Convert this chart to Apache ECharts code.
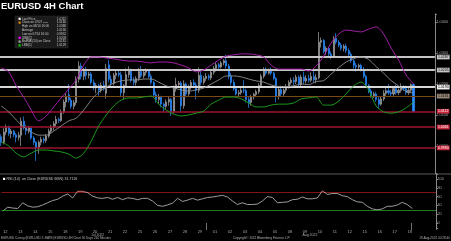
<!DOCTYPE html>
<html><head><meta charset="utf-8">
<script src="https://cdn.jsdelivr.net/npm/echarts@6/dist/echarts.min.js"></script>
<style>html,body{margin:0;padding:0;background:#000;}#c{width:451px;height:241px;}</style>
</head><body><div id="c"></div>
<script>
// ---------------- DATA ----------------
const dayLabels = ['12','13','14','15','18','19','20','21','22','25','26','27','28','29',
  '01','02','03','04','05','08','09','10','11','12','15','16','17','18'];
const monthLabels = ['Jul 2022', 'Aug 2022'];
const monthLabelBars = [38, 123];

const opens = [
 1.0030,1.0012,1.0045,1.0062,1.0040,1.0048, 1.0036,1.0028,1.0035,1.0080,1.0060,1.0048,
 1.0058,1.0026,1.0012,0.9994,1.0012,1.0022, 1.0018,1.0032,1.0048,1.0060,1.0072,1.0086,
 1.0082,1.0110,1.0142,1.0165,1.0148,1.0128, 1.0140,1.0215,1.0258,1.0225,1.0240,1.0228,
 1.0232,1.0205,1.0188,1.0195,1.0180,1.0196, 1.0170,1.0262,1.0215,1.0202,1.0228,1.0235,
 1.0230,1.0172,1.0195,1.0230,1.0245,1.0212, 1.0205,1.0218,1.0240,1.0226,1.0238,1.0242,
 1.0224,1.0205,1.0165,1.0150,1.0158,1.0135, 1.0128,1.0142,1.0150,1.0112,1.0185,1.0198,
 1.0203,1.0130,1.0200,1.0168,1.0190,1.0205, 1.0197,1.0180,1.0228,1.0205,1.0218,1.0225,
 1.0220,1.0238,1.0250,1.0262,1.0255,1.0268, 1.0275,1.0258,1.0225,1.0205,1.0185,1.0168,
 1.0172,1.0180,1.0178,1.0150,1.0140,1.0158, 1.0166,1.0175,1.0195,1.0225,1.0248,1.0235,
 1.0245,1.0235,1.0218,1.0160,1.0182,1.0168, 1.0180,1.0192,1.0205,1.0212,1.0208,1.0222,
 1.0198,1.0222,1.0210,1.0218,1.0212,1.0224, 1.0214,1.0220,1.0335,1.0340,1.0305,1.0315,
 1.0297,1.0290,1.0348,1.0335,1.0325,1.0315, 1.0322,1.0308,1.0296,1.0275,1.0260,1.0255,
 1.0260,1.0248,1.0225,1.0195,1.0178,1.0162, 1.0168,1.0150,1.0135,1.0152,1.0170,1.0178,
 1.0172,1.0168,1.0185,1.0172,1.0180,1.0190, 1.0185,1.0172,1.0180,1.0198];
const closes = [
 1.0012,1.0045,1.0062,1.0040,1.0048,1.0036, 1.0028,1.0035,1.0080,1.0060,1.0048,1.0058,
 1.0026,1.0012,0.9994,1.0012,1.0022,1.0018, 1.0032,1.0048,1.0060,1.0072,1.0086,1.0082,
 1.0110,1.0142,1.0160,1.0148,1.0128,1.0140, 1.0215,1.0258,1.0225,1.0240,1.0228,1.0232,
 1.0205,1.0188,1.0195,1.0180,1.0196,1.0184, 1.0250,1.0215,1.0202,1.0228,1.0235,1.0230,
 1.0172,1.0195,1.0230,1.0245,1.0212,1.0205, 1.0218,1.0240,1.0226,1.0238,1.0242,1.0224,
 1.0205,1.0165,1.0150,1.0158,1.0135,1.0128, 1.0142,1.0150,1.0112,1.0185,1.0198,1.0203,
 1.0130,1.0200,1.0168,1.0190,1.0205,1.0197, 1.0180,1.0228,1.0205,1.0218,1.0225,1.0220,
 1.0238,1.0250,1.0262,1.0255,1.0268,1.0275, 1.0258,1.0225,1.0205,1.0185,1.0168,1.0172,
 1.0180,1.0178,1.0150,1.0140,1.0158,1.0166, 1.0175,1.0195,1.0225,1.0248,1.0235,1.0245,
 1.0235,1.0218,1.0160,1.0182,1.0168,1.0180, 1.0192,1.0205,1.0212,1.0208,1.0222,1.0198,
 1.0222,1.0210,1.0218,1.0212,1.0224,1.0214, 1.0220,1.0335,1.0340,1.0305,1.0315,1.0297,
 1.0290,1.0345,1.0335,1.0325,1.0315,1.0322, 1.0308,1.0296,1.0275,1.0260,1.0255,1.0260,
 1.0248,1.0225,1.0195,1.0178,1.0162,1.0168, 1.0150,1.0135,1.0152,1.0170,1.0178,1.0172,
 1.0168,1.0185,1.0172,1.0180,1.0190,1.0185, 1.0172,1.0180,1.0198,1.0112];
const lows = [
 1.0000,1.0005,1.0035,1.0032,1.0025,1.0028, 1.0012,1.0018,1.0000,1.0052,1.0035,1.0040,
 1.0020,1.0004,0.9952,0.9975,1.0002,1.0008, 1.0010,1.0026,1.0040,1.0050,1.0062,1.0074,
 1.0078,1.0104,1.0125,1.0140,1.0120,1.0118, 1.0132,1.0205,1.0215,1.0212,1.0215,1.0218,
 1.0198,1.0180,1.0170,1.0162,1.0172,1.0178, 1.0153,1.0205,1.0190,1.0195,1.0215,1.0222,
 1.0160,1.0150,1.0188,1.0220,1.0205,1.0195, 1.0195,1.0210,1.0220,1.0218,1.0228,1.0218,
 1.0198,1.0158,1.0140,1.0135,1.0125,1.0111, 1.0120,1.0130,1.0097,1.0105,1.0175,1.0188,
 1.0112,1.0120,1.0160,1.0162,1.0182,1.0188, 1.0150,1.0172,1.0195,1.0198,1.0210,1.0212,
 1.0212,1.0230,1.0240,1.0248,1.0250,1.0260, 1.0250,1.0215,1.0195,1.0178,1.0163,1.0160,
 1.0165,1.0170,1.0140,1.0123,1.0130,1.0150, 1.0158,1.0168,1.0188,1.0218,1.0228,1.0230,
 1.0228,1.0212,1.0141,1.0150,1.0160,1.0162, 1.0172,1.0185,1.0198,1.0196,1.0200,1.0190,
 1.0190,1.0200,1.0202,1.0204,1.0206,1.0205, 1.0202,1.0215,1.0318,1.0298,1.0294,1.0290,
 1.0280,1.0285,1.0328,1.0318,1.0308,1.0305, 1.0300,1.0288,1.0268,1.0250,1.0240,1.0245,
 1.0240,1.0218,1.0188,1.0170,1.0156,1.0155, 1.0142,1.0123,1.0130,1.0145,1.0162,1.0165,
 1.0160,1.0162,1.0165,1.0165,1.0172,1.0178, 1.0165,1.0165,1.0172,1.0108];
const highs = [
 1.0038,1.0058,1.0069,1.0066,1.0055,1.0052, 1.0042,1.0045,1.0092,1.0095,1.0068,1.0065,
 1.0062,1.0032,1.0016,1.0018,1.0030,1.0028, 1.0038,1.0056,1.0068,1.0080,1.0097,1.0092,
 1.0118,1.0150,1.0170,1.0200,1.0155,1.0148, 1.0225,1.0274,1.0268,1.0252,1.0255,1.0240,
 1.0238,1.0215,1.0203,1.0200,1.0205,1.0210, 1.0265,1.0278,1.0228,1.0236,1.0245,1.0244,
 1.0240,1.0200,1.0250,1.0257,1.0250,1.0222, 1.0225,1.0252,1.0258,1.0246,1.0250,1.0248,
 1.0232,1.0210,1.0175,1.0168,1.0162,1.0140, 1.0150,1.0160,1.0155,1.0195,1.0220,1.0210,
 1.0210,1.0212,1.0205,1.0198,1.0213,1.0215, 1.0205,1.0253,1.0240,1.0226,1.0235,1.0232,
 1.0245,1.0258,1.0270,1.0268,1.0274,1.0280, 1.0294,1.0265,1.0235,1.0215,1.0195,1.0180,
 1.0190,1.0213,1.0185,1.0160,1.0165,1.0172, 1.0182,1.0202,1.0232,1.0254,1.0254,1.0250,
 1.0253,1.0240,1.0222,1.0190,1.0195,1.0186, 1.0200,1.0212,1.0220,1.0222,1.0230,1.0228,
 1.0230,1.0240,1.0228,1.0230,1.0238,1.0248, 1.0232,1.0368,1.0350,1.0345,1.0322,1.0320,
 1.0305,1.0355,1.0364,1.0342,1.0332,1.0328, 1.0330,1.0315,1.0302,1.0280,1.0268,1.0266,
 1.0266,1.0255,1.0230,1.0200,1.0185,1.0175, 1.0175,1.0158,1.0160,1.0180,1.0190,1.0200,
 1.0180,1.0192,1.0198,1.0186,1.0202,1.0196, 1.0195,1.0188,1.0202,1.0202];

// Bollinger bands, one reading every 3 bars
const bandStep = 3;
const upperBand = [
 1.0252,1.0239,1.0194,1.0158,1.0116,1.0081,1.0097,1.0126,1.0155,1.0184,
 1.0213,1.0261,1.0287,1.0287,1.0284,1.0281,1.0277,1.0274,1.0274,1.0271,
 1.0268,1.0271,1.0271,1.0268,1.0261,1.0252,1.0239,1.0245,1.0261,1.0277,
 1.0290,1.0294,1.0297,1.0297,1.0294,1.0287,1.0261,1.0248,1.0248,1.0248,
 1.0248,1.0242,1.0258,1.0290,1.0332,1.0361,1.0374,1.0371,1.0368,1.0377,
 1.0384,1.0361,1.0316,1.0277,1.0229,1.0200];
const midBand = [
 1.0129,1.0110,1.0084,1.0061,1.0045,1.0035,1.0035,1.0048,1.0065,1.0081,
 1.0090,1.0116,1.0148,1.0174,1.0190,1.0203,1.0210,1.0213,1.0213,1.0216,
 1.0216,1.0206,1.0194,1.0187,1.0181,1.0177,1.0181,1.0187,1.0200,1.0213,
 1.0226,1.0226,1.0223,1.0216,1.0210,1.0206,1.0197,1.0192,1.0192,1.0194,
 1.0200,1.0198,1.0208,1.0211,1.0232,1.0253,1.0271,1.0282,1.0287,1.0279,
 1.0256,1.0235,1.0211,1.0194,1.0176,1.0171];
const lowerBand = [
 1.0013,1.0000,0.9977,0.9965,0.9977,0.9987,0.9987,0.9984,0.9981,0.9974,
 0.9961,0.9977,1.0016,1.0065,1.0100,1.0129,1.0148,1.0155,1.0155,1.0158,
 1.0161,1.0135,1.0116,1.0103,1.0097,1.0100,1.0106,1.0113,1.0135,1.0148,
 1.0158,1.0158,1.0152,1.0139,1.0126,1.0126,1.0132,1.0135,1.0135,1.0139,
 1.0152,1.0155,1.0158,1.0132,1.0132,1.0145,1.0168,1.0194,1.0206,1.0181,
 1.0129,1.0110,1.0106,1.0110,1.0123,1.0142];

// RSI(14), one reading every 2 bars
const rsiStep = 2;
const rsiValues = [
 27,36,34,33,46,39,36,37,41,46, 51,54,61,66,57,72,72,69,61,57,
 56,58,54,58,53,57,56,53,56,56, 50,40,38,41,45,56,49,52,56,52,
 55,58,59,61,63,59,50,42,46,42, 42,43,50,60,58,46,47,48,53,54,
 59,55,55,57,73,65,67,67,62,60, 53,48,47,38,32,30,32,38,38,41,
 47,42,33];
const rsiLast = 31.7116;
const rsiBands = [70, 30];

// horizontal levels and right-hand value tags
const levelValues = [1.0287, 1.0245, 1.0190, 1.0161, 1.0112, 1.0061, 0.9994];
const legendNames = ['Last Price','Close on 07/07 -----','High on 08/10 16:00','Average',
  'Low on 07/14 16:00','UBB(C)','BollMA (20) on Close','LBB(C)'];
const legendValues = [1.0112, 1.0160, 1.0368, 1.0190, 0.9952, 1.0203, 1.0181, 1.0129];

// ---------------- CHART ----------------
const barCount = 174;
const categories = Array.from({length: barCount}, (_, i) => String(i));
const candleData = opens.map((o, i) => [o, closes[i], lows[i], highs[i]]);
const bandData = arr => arr.map((v, k) => [k * bandStep, v]);
const rsiData = rsiValues.map((v, k) => [k * rsiStep, v]);

const FONT = 'Liberation Sans';
const levelStyles = [
  {c:'#c4c4c4', w:1.8, box:'#c8c8c8', t:'#000'},
  {c:'#c4c4c4', w:1.8, box:'#c8c8c8', t:'#000'},
  {c:'#d8d8d8', w:1.8, box:'#f0f0f0', t:'#000'},
  {c:'#7a4716', w:1,   box:'#9a8a7a', t:'#000'},
  {c:'#9e1330', w:1.5, box:'#c8283e', t:'#fff'},
  {c:'#9e1330', w:1.5, box:'#c8283e', t:'#fff'},
  {c:'#9e1330', w:1.5, box:'#c8283e', t:'#fff'}
];
function tag(v, box, txt, hideLine) {
  return {
    yAxis: v,
    lineStyle: hideLine ? {opacity: 0, width: 0} : undefined,
    label: {show: true, position: 'end', distance: 2, formatter: v.toFixed(4),
      fontSize: 3.5, lineHeight: 4.3, fontFamily: FONT, color: txt,
      backgroundColor: box, padding: [0.4, 1, 0, 1]}
  };
}
const markData = levelValues.map((v, i) => {
  const s = levelStyles[i];
  const d = tag(v, s.box, s.t, false);
  d.lineStyle = {color: s.c, width: s.w, type: 'solid'};
  return d;
});
markData.push(tag(legendValues[5], '#ff00ff', '#000', true));
markData.push(tag(legendValues[6], '#b0b0b0', '#000', true));
markData.push(tag(legendValues[7], '#00dd00', '#000', true));

// legend box graphic
const legendIcons = ['#ffffff','#e08a00',null,null,null,'#ff00ff','#a0a0a0','#00cc00'];
const legendEls = [{type:'rect', shape:{x:15, y:16, width:53, height:32},
  style:{fill:'#1b1b1b', stroke:'#2e2e2e', lineWidth:0.5}}];
legendNames.forEach((n, i) => {
  const y = 18.8 + i * 3.8;
  if (legendIcons[i]) legendEls.push({type:'rect', shape:{x:18.5, y:y-1.1, width:2.2, height:2.2}, style:{fill:legendIcons[i]}});
  legendEls.push({type:'text', x:22, y:y, style:{text:n, fill:'#c8c8c8', fontSize:3, fontFamily:FONT, verticalAlign:'middle'}});
  legendEls.push({type:'text', x:66, y:y, style:{text:legendValues[i].toFixed(4), fill:'#c8c8c8', fontSize:3, fontFamily:FONT, align:'right', verticalAlign:'middle'}});
});

const chart = echarts.init(document.getElementById('c'), null, {renderer:'canvas'});
const option = {
  backgroundColor: '#000',
  animation: false,
  textStyle: {fontFamily: FONT},
  grid: [
    {left: 0, width: 436, top: 14, height: 159},
    {left: 0, width: 436, top: 174, height: 54}
  ],
  xAxis: [
    {gridIndex:0, type:'category', data:categories, axisLine:{show:false}, axisTick:{show:false}, axisLabel:{show:false}, splitLine:{show:false}},
    {gridIndex:1, type:'category', data:categories, axisLine:{show:false},
      axisTick:{show:true, interval:(i) => i === 82 || i === 164, length:7, lineStyle:{color:'#8a8a8a', width:0.8}},
      axisLabel:{interval:(i) => i % 6 === 1 && (i - 1) / 6 < dayLabels.length,
        formatter:(v, i) => dayLabels[(i - 1) / 6] || '', fontSize:4, color:'#a8a8a8', margin:2, fontFamily:FONT},
      splitLine:{show:false}},
    {gridIndex:1, type:'category', data:categories, position:'bottom', offset:3.5, axisLine:{show:false}, axisTick:{show:false},
      axisLabel:{interval:(i) => monthLabelBars.includes(i),
        formatter:(v, i) => { const k = monthLabelBars.indexOf(i); return k >= 0 ? monthLabels[k] : ''; },
        fontSize:3.5, color:'#a8a8a8', margin:2, fontFamily:FONT}}
  ],
  yAxis: [
    {gridIndex:0, type:'value', position:'right', min:0.99129, max:1.04258, scale:true,
      axisLine:{show:true, lineStyle:{color:'#8a8a8a', width:1}},
      axisTick:{show:true, length:2, lineStyle:{color:'#8a8a8a'}},
      axisLabel:{fontSize:3.8, color:'#a0a0a0', margin:1.5, fontFamily:FONT,
        formatter:(v) => Math.abs(v * 100 - Math.round(v * 100)) < 1e-6 ? v.toFixed(4) : ''},
      splitLine:{show:false}},
    {gridIndex:1, type:'value', position:'right', min:-11.36, max:111.36,
      axisLine:{show:true, lineStyle:{color:'#8a8a8a', width:1}},
      axisTick:{show:true, length:2, lineStyle:{color:'#8a8a8a'}},
      axisLabel:{fontSize:3.8, color:'#a0a0a0', margin:1.5, fontFamily:FONT,
        formatter:(v) => (v >= 0 && v <= 100 && Math.abs(v % 20) < 1e-6) ? String(Math.round(v)) : ''},
      splitLine:{show:false}}
  ],
  visualMap: {show:false, type:'piecewise', seriesIndex:4, dimension:1,
    pieces:[{gt:70, color:'#ff9090'}, {lt:30, color:'#4cd44c'}, {gte:30, lte:70, color:'#c4c4c4'}]},
  series: [
    {type:'candlestick', xAxisIndex:0, yAxisIndex:0, data:candleData, barWidth:1.8,
      itemStyle:{color:'#7c7c7c', color0:'#2b8dff', borderColor:'#a6a6a6', borderColor0:'#2b8dff', borderWidth:0.7},
      markLine:{silent:true, precision:6, symbol:['none','none'], animation:false, data:markData}},
    {type:'line', xAxisIndex:0, yAxisIndex:0, data:bandData(upperBand), showSymbol:false, smooth:0.3,
      lineStyle:{color:'#a21fa8', width:1}, z:5},
    {type:'line', xAxisIndex:0, yAxisIndex:0, data:bandData(midBand), showSymbol:false, smooth:0.3,
      lineStyle:{color:'#8e8e8e', width:0.9}, z:5},
    {type:'line', xAxisIndex:0, yAxisIndex:0, data:bandData(lowerBand), showSymbol:false, smooth:0.3,
      lineStyle:{color:'#1d9a1d', width:1}, z:5},
    {type:'line', xAxisIndex:1, yAxisIndex:1, data:rsiData, showSymbol:false,
      lineStyle:{width:0.8}, z:5,
      markLine:{silent:true, precision:6, symbol:['none','none'], animation:false, data:[
        {yAxis:rsiBands[0], lineStyle:{color:'#7e1515', width:1, type:'solid'}, label:{show:false}},
        {yAxis:rsiBands[1], lineStyle:{color:'#1e7a1e', width:1, type:'solid'}, label:{show:false}},
        {yAxis:rsiLast, lineStyle:{opacity:0, width:0}, label:{show:true, position:'end', distance:2,
          formatter:rsiLast.toFixed(4), fontSize:3.5, lineHeight:4.3, fontFamily:FONT, color:'#000',
          backgroundColor:'#d0d0d0', padding:[0.4,1,0,1]}}
      ]}}
  ],
  graphic: [
    {type:'text', x:1, y:1, style:{text:'EURUSD 4H Chart', fill:'#ffffff', fontSize:9.5, fontWeight:'bold', fontFamily:FONT, verticalAlign:'top'}},
    ...legendEls,
    {type:'line', shape:{x1:0, y1:174, x2:451, y2:174}, style:{stroke:'#5c5c5c', lineWidth:1}},
    {type:'rect', shape:{x:3, y:177.8, width:2.2, height:2.2}, style:{fill:'#ffffff'}},
    {type:'text', x:6.5, y:179, style:{text:'RSI (14)  on Close (EURUSD BGN) ' + rsiLast.toFixed(4), fill:'#c8c8c8', fontSize:3.6, fontFamily:FONT, verticalAlign:'middle'}},
    {type:'text', x:1, y:238, style:{text:'EURUSD Curncy (EUR-USD X-RATE) EURUSD 4H Chart 30 Days 240 Minutes', fill:'#b0b0b0', fontSize:3.1, fontFamily:FONT, verticalAlign:'middle'}},
    {type:'text', x:233, y:238, style:{text:'Copyright\u00a9 2022 Bloomberg Finance L.P.', fill:'#b0b0b0', fontSize:3.1, fontFamily:FONT, verticalAlign:'middle'}},
    {type:'text', x:450, y:238, style:{text:'19-Aug-2022 00:28:40', fill:'#b0b0b0', fontSize:3.1, fontFamily:FONT, align:'right', verticalAlign:'middle'}}
  ]
};
chart.setOption(option);
</script>
</body></html>
